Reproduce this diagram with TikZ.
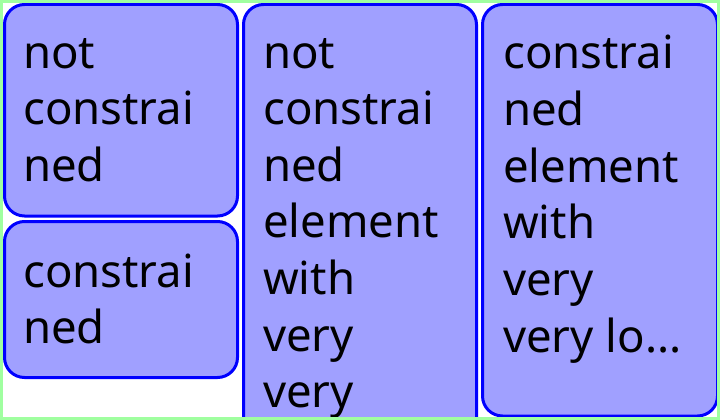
\documentclass[tikz,border=0pt]{standalone}
\usepackage{fontspec}
\setmainfont{Noto Sans}
\definecolor{boxfill}{HTML}{A0A0FF}
\definecolor{boxline}{HTML}{0000FF}
\definecolor{frame}{HTML}{A0FFA0}
\newcommand{\lines}[1]{\begin{tabular}[t]{@{}l@{}}#1\end{tabular}}
\begin{document}
\begin{tikzpicture}[x=1pt,y=-1pt,
  cell/.style={draw=boxline,fill=boxfill,line width=3pt,rounded corners=20pt},
  label/.style={anchor=base west,inner sep=0pt,font=\fontsize{45.5}{56.6}\selectfont}]
\useasboundingbox (0,0) rectangle (720,420);
\fill[white] (0,0) rectangle (720,420);
\begin{scope}
\clip (3,3) rectangle (717,417);
\draw[cell] (4.5,4.5) rectangle (237.5,216);
\draw[cell] (4.5,221.5) rectangle (237.5,377.5);
\draw[cell] (243.5,4.5) rectangle (476.5,470);
\draw[cell] (482.5,4.5) rectangle (717.5,416);
\node[label] (t1) at (23,68) {\lines{not\\constrai\\ned}};
\node[label] (t2) at (23,287) {\lines{constrai\\ned}};
\node[label] (t3) at (263,68) {\lines{not\\constrai\\ned\\element\\with\\very\\very}};
\node[label] (t4) at (503,69) {\lines{constrai\\ned\\element\\with\\very\\very lo...}};
\end{scope}
\draw[frame,line width=3pt] (1.5,1.5) rectangle (718.5,418.5);
\end{tikzpicture}
\end{document}
